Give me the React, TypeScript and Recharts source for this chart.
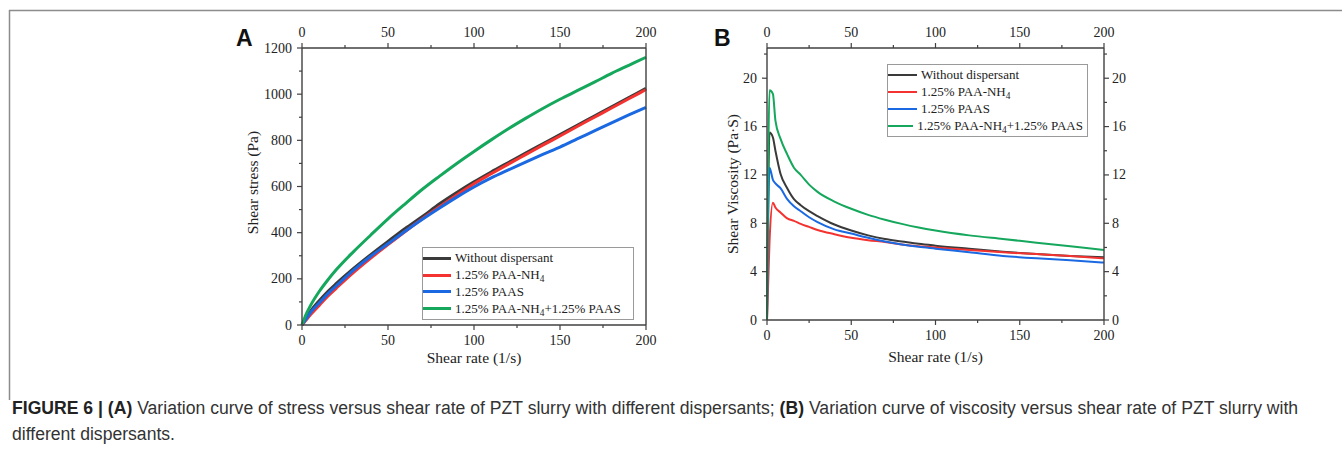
import { Legend, Line, LineChart, XAxis, YAxis } from "recharts";

// panel A: shear stress (Pa) vs shear rate (1/s)
const rateA = [0, 2, 5, 10, 15, 20, 30, 40, 50, 60, 70, 80, 90, 100, 110, 120, 130, 140, 150, 160, 170, 180, 190, 200];
const stressNone = [0, 25, 60, 105, 145, 180, 245, 305, 362, 418, 470, 525, 574, 620, 663, 704, 745, 785, 825, 865, 905, 945, 985, 1025];
const stressNH4 = [0, 18, 45, 85, 125, 160, 228, 290, 348, 405, 460, 512, 563, 612, 655, 697, 738, 779, 819, 860, 900, 940, 980, 1020];
const stressPAAS = [0, 22, 55, 95, 135, 170, 238, 298, 352, 406, 458, 507, 554, 598, 637, 672, 706, 739, 771, 806, 841, 876, 910, 943];
const stressBoth = [0, 40, 85, 145, 195, 240, 318, 390, 460, 525, 588, 645, 700, 752, 802, 850, 895, 938, 978, 1015, 1052, 1090, 1125, 1160];

// panel B: shear viscosity (Pa·S) vs shear rate (1/s)
const rateB = [0, 1.5, 3.5, 5, 8, 12, 16, 20, 25, 30, 40, 50, 60, 70, 80, 90, 100, 120, 140, 160, 180, 200];
const viscNone = [0, 15.5, 15.1, 14.0, 12.1, 10.9, 10.0, 9.5, 9.0, 8.6, 7.9, 7.4, 7.0, 6.7, 6.5, 6.3, 6.15, 5.9, 5.65, 5.45, 5.3, 5.2];
const viscNH4 = [0, 6.5, 9.7, 9.3, 8.9, 8.4, 8.2, 7.95, 7.7, 7.45, 7.1, 6.8, 6.6, 6.45, 6.25, 6.1, 6.0, 5.8, 5.6, 5.45, 5.3, 5.1];
const viscPAAS = [0, 12.6, 11.6, 11.3, 10.9, 10.0, 9.4, 9.0, 8.5, 8.1, 7.5, 7.15, 6.8, 6.5, 6.25, 6.05, 5.9, 5.6, 5.3, 5.1, 4.95, 4.75];
const viscBoth = [0, 19.0, 18.7, 16.5, 15.0, 13.7, 12.6, 12.0, 11.2, 10.6, 9.8, 9.2, 8.7, 8.3, 7.95, 7.65, 7.4, 7.0, 6.7, 6.4, 6.1, 5.8];

const seriesKeys = ["none", "nh4", "paas", "both"];
const seriesNames = ["Without dispersant", "1.25% PAA-NH4", "1.25% PAAS", "1.25% PAA-NH4+1.25% PAAS"];
const seriesColors = ["#3a3a3a", "#f43331", "#1b69e2", "#15a75c"];

const rateTicks = [0, 25, 50, 75, 100, 125, 150, 175, 200];
const stressTicks = [0, 100, 200, 300, 400, 500, 600, 700, 800, 900, 1000, 1100, 1200];
const viscTicks = [0, 2, 4, 6, 8, 10, 12, 14, 16, 18, 20, 22];

const dataA = rateA.map((rate, i) => ({
  rate,
  none: stressNone[i],
  nh4: stressNH4[i],
  paas: stressPAAS[i],
  both: stressBoth[i],
}));
const dataB = rateB.map((rate, i) => ({
  rate,
  none: viscNone[i],
  nh4: viscNH4[i],
  paas: viscPAAS[i],
  both: viscBoth[i],
}));

const SERIF = "'Liberation Serif', 'Times New Roman', serif";
const SANS = "'Liberation Sans', Arial, sans-serif";
const AXIS = "#404040";
const INK = "#222";

type Side = "top" | "bottom" | "left" | "right";

// draws tick line + label itself, so majors/minors can differ in length
function axisTick(side: Side, step: number) {
  return (props: any) => {
    const { x, y, payload } = props;
    const v = Number(payload.value);
    const major = Math.abs(v / step - Math.round(v / step)) < 1e-6;
    const len = major ? 5 : 3;
    let line = { x1: x, y1: y, x2: x, y2: y + len };
    let tx = x, ty = y + 20, anchor = "middle";
    if (side === "top") {
      line = { x1: x, y1: y, x2: x, y2: y - len };
      ty = y - 11;
    } else if (side === "left") {
      line = { x1: x, y1: y, x2: x - len, y2: y };
      tx = x - 10;
      ty = y + 4.5;
      anchor = "end";
    } else if (side === "right") {
      line = { x1: x, y1: y, x2: x + len, y2: y };
      tx = x + 8;
      ty = y + 4.5;
      anchor = "start";
    }
    return (
      <g>
        <line {...line} stroke={AXIS} strokeWidth={1.2} />
        {major && (
          <text x={tx} y={ty} textAnchor={anchor} fontFamily={SERIF} fontSize={14} fill={INK}>
            {v}
          </text>
        )}
      </g>
    );
  };
}

function bottomTitle(text: string, dy: number) {
  return (p: any) => {
    const vb = p.viewBox;
    return (
      <text x={vb.x + vb.width / 2} y={vb.y + dy} textAnchor="middle" fontFamily={SERIF} fontSize={15.5} fill={INK}>
        {text}
      </text>
    );
  };
}

function leftTitle(text: string, dx: number, shiftY = 0) {
  return (p: any) => {
    const vb = p.viewBox;
    const cx = vb.x + dx;
    const cy = vb.y + vb.height / 2 + shiftY;
    return (
      <text
        x={cx}
        y={cy}
        transform={`rotate(-90 ${cx} ${cy})`}
        textAnchor="middle"
        dominantBaseline="central"
        fontFamily={SERIF}
        fontSize={15.5}
        fill={INK}
      >
        {text}
      </text>
    );
  };
}

function withSub(name: string) {
  const parts = name.split("NH4");
  return parts.map((part, i) => (
    <span key={i}>
      {part}
      {i < parts.length - 1 && (
        <>
          NH<span style={{ fontSize: "0.72em", position: "relative", top: "0.3em" }}>4</span>
        </>
      )}
    </span>
  ));
}

function legendBox(lineW: number, rowH: number, swatch: number) {
  return (props: any) => {
    const items = [...(props.payload || [])].sort(
      (a: any, b: any) => seriesNames.indexOf(a.value) - seriesNames.indexOf(b.value),
    );
    return (
      <div
        style={{
          border: "1px solid #9a9a9a",
          background: "#fff",
          padding: "2px 4px 2px 0",
          fontFamily: SERIF,
          fontSize: 13,
          color: INK,
          whiteSpace: "nowrap",
        }}
      >
        {items.map((item: any) => (
          <div key={item.value} style={{ display: "flex", alignItems: "center", height: rowH }}>
            <span style={{ display: "inline-block", width: swatch, borderTop: `${lineW}px solid ${item.color}`, marginRight: 4 }} />
            <span>{withSub(String(item.value))}</span>
          </div>
        ))}
      </div>
    );
  };
}

function StressChart() {
  return (
    <LineChart width={700} height={380} data={dataA} margin={{ top: 18, right: 4, bottom: 5, left: 242 }}>
      <XAxis
        xAxisId="bottom"
        dataKey="rate"
        type="number"
        domain={[0, 200]}
        ticks={rateTicks}
        interval={0}
        height={50}
        tickSize={0}
        tickMargin={0}
        tickLine={false}
        axisLine={{ stroke: AXIS, strokeWidth: 1.4 }}
        tick={axisTick("bottom", 50)}
        label={bottomTitle("Shear rate (1/s)", 38)}
      />
      <XAxis
        xAxisId="top"
        orientation="top"
        dataKey="rate"
        type="number"
        domain={[0, 200]}
        ticks={rateTicks}
        interval={0}
        height={30}
        tickSize={0}
        tickMargin={0}
        tickLine={false}
        axisLine={{ stroke: AXIS, strokeWidth: 1.4 }}
        tick={axisTick("top", 50)}
      />
      <YAxis
        yAxisId="left"
        type="number"
        domain={[0, 1200]}
        ticks={stressTicks}
        interval={0}
        width={60}
        tickSize={0}
        tickMargin={0}
        tickLine={false}
        axisLine={{ stroke: AXIS, strokeWidth: 1.4 }}
        tick={axisTick("left", 200)}
        label={leftTitle("Shear stress (Pa)", 10, -4)}
      />
      <YAxis
        yAxisId="right"
        orientation="right"
        type="number"
        domain={[0, 1200]}
        ticks={stressTicks}
        interval={0}
        width={50}
        tickSize={0}
        tickMargin={0}
        tickLine={false}
        axisLine={{ stroke: AXIS, strokeWidth: 1.4 }}
        tick={axisTick("right", 200)}
      />
      <Legend
        layout="vertical"
        align="center"
        verticalAlign="middle"
        content={legendBox(3, 16.8, 28)}
        wrapperStyle={{ left: 422, top: 247, width: 212 }}
      />
      {seriesKeys.map((key, i) => (
        <Line
          key={key}
          xAxisId="bottom"
          yAxisId="left"
          type="monotone"
          dataKey={key}
          name={seriesNames[i]}
          stroke={seriesColors[i]}
          strokeWidth={3}
          dot={false}
          isAnimationActive={false}
        />
      ))}
    </LineChart>
  );
}

function ViscosityChart() {
  return (
    <LineChart width={460} height={380} data={dataB} margin={{ top: 18, right: 6, bottom: 10, left: 7 }}>
      <XAxis
        xAxisId="bottom"
        dataKey="rate"
        type="number"
        domain={[0, 200]}
        ticks={rateTicks}
        interval={0}
        height={50}
        tickSize={0}
        tickMargin={0}
        tickLine={false}
        axisLine={{ stroke: AXIS, strokeWidth: 1.4 }}
        tick={axisTick("bottom", 50)}
        label={bottomTitle("Shear rate (1/s)", 42)}
      />
      <XAxis
        xAxisId="top"
        orientation="top"
        dataKey="rate"
        type="number"
        domain={[0, 200]}
        ticks={rateTicks}
        interval={0}
        height={30}
        tickSize={0}
        tickMargin={0}
        tickLine={false}
        axisLine={{ stroke: AXIS, strokeWidth: 1.4 }}
        tick={axisTick("top", 50)}
      />
      <YAxis
        yAxisId="left"
        type="number"
        domain={[0, 22.5]}
        allowDataOverflow
        ticks={viscTicks}
        interval={0}
        width={60}
        tickSize={0}
        tickMargin={0}
        tickLine={false}
        axisLine={{ stroke: AXIS, strokeWidth: 1.4 }}
        tick={axisTick("left", 4)}
        label={leftTitle("Shear Viscosity (Pa·S)", 25)}
      />
      <YAxis
        yAxisId="right"
        orientation="right"
        type="number"
        domain={[0, 22.5]}
        allowDataOverflow
        ticks={viscTicks}
        interval={0}
        width={50}
        tickSize={0}
        tickMargin={0}
        tickLine={false}
        axisLine={{ stroke: AXIS, strokeWidth: 1.4 }}
        tick={axisTick("right", 4)}
      />
      <Legend
        layout="vertical"
        align="center"
        verticalAlign="middle"
        content={legendBox(2.5, 16.8, 29)}
        wrapperStyle={{ left: 187, top: 64, width: 201 }}
      />
      {seriesKeys.map((key, i) => (
        <Line
          key={key}
          xAxisId="bottom"
          yAxisId="left"
          type="monotone"
          dataKey={key}
          name={seriesNames[i]}
          stroke={seriesColors[i]}
          strokeWidth={2}
          dot={false}
          isAnimationActive={false}
        />
      ))}
    </LineChart>
  );
}

export default function App() {
  return (
    <div style={{ position: "absolute", left: 0, top: 0, width: 1342, height: 453, background: "#fff", overflow: "hidden" }}>
      <svg width={1342} height={453} style={{ position: "absolute", left: 0, top: 0 }}>
        <line x1={9} y1={10.5} x2={1342} y2={10.5} stroke="#8c8c8c" strokeWidth={1.5} />
        <line x1={9.5} y1={10} x2={9.5} y2={400} stroke="#8c8c8c" strokeWidth={1.5} />
        <text x={236} y={46} fontFamily={SANS} fontWeight="bold" fontSize={23} fill="#111">A</text>
        <text x={714} y={46} fontFamily={SANS} fontWeight="bold" fontSize={23} fill="#111">B</text>
        <text x={12} y={413.5} fontFamily={SANS} fontSize={17.6} fill="#333">
          <tspan fontWeight="bold" fill="#222">FIGURE 6 | (A)</tspan>
          {" Variation curve of stress versus shear rate of PZT slurry with different dispersants; "}
          <tspan fontWeight="bold" fill="#222">(B)</tspan>
          {" Variation curve of viscosity versus shear rate of PZT slurry with"}
        </text>
        <text x={12} y={439.5} fontFamily={SANS} fontSize={17.6} fill="#333">
          different dispersants.
        </text>
      </svg>
      <div style={{ position: "absolute", left: 0, top: 0 }}>
        <StressChart />
      </div>
      <div style={{ position: "absolute", left: 700, top: 0 }}>
        <ViscosityChart />
      </div>
    </div>
  );
}
